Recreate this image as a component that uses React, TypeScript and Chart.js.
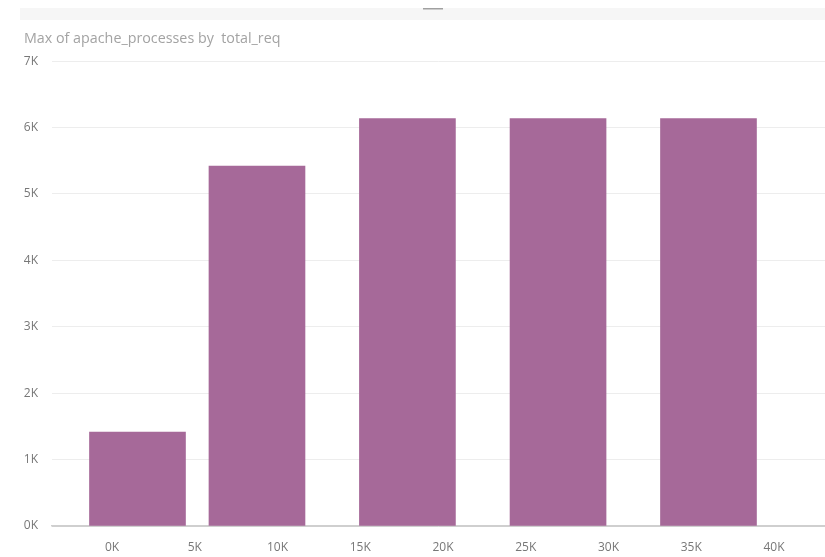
import React, { useEffect, useRef } from "react";
import { Chart, registerables } from "chart.js";

Chart.register(...registerables);

const binCenters = [1540, 8760, 17850, 26950, 36040];
const maxProcesses = [1415, 5420, 6137, 6137, 6137];
const xTickValues = [0, 5000, 10000, 15000, 20000, 25000, 30000, 35000, 40000];
const titleText = "Max of apache_processes by  total_req";

const FONT = "'Open Sans', 'Noto Sans', sans-serif";

const frame = {
  id: "frame",
  beforeDraw(chart: any) {
    const c = chart.ctx;
    c.save();
    c.fillStyle = "#ffffff";
    c.fillRect(0, 0, chart.width, chart.height);
    c.fillStyle = "#f6f6f6";
    c.fillRect(20, 8, chart.width - 20, 12);
    c.fillStyle = "#a0a0a0";
    c.fillRect(423, 8, 20, 1.5);
    c.restore();
  },
};

export default function App() {
  const ref = useRef<HTMLCanvasElement>(null);
  useEffect(() => {
    document.body.style.margin = "0";
    const chart = new Chart(ref.current!, {
      type: "bar",
      data: {
        datasets: [
          {
            label: "Max of apache_processes",
            data: binCenters.map((x, i) => ({ x, y: maxProcesses[i] })),
            backgroundColor: "#A66999",
            barThickness: 96,
          },
        ],
      },
      plugins: [frame],
      options: {
        animation: false,
        responsive: false,
        layout: { padding: { left: 24, top: 30, right: 0, bottom: 2 } },
        plugins: {
          legend: { display: false },
          tooltip: { enabled: false },
          title: {
            display: true,
            text: titleText,
            align: "start",
            color: "#a3a3a3",
            font: { family: FONT, size: 14.3, weight: "normal" },
            padding: { top: 0, bottom: 14 },
          },
        },
        scales: {
          x: {
            type: "linear",
            offset: false,
            min: -3625,
            max: 43080,
            afterBuildTicks: (scale: any) => {
              scale.ticks = xTickValues.map((v) => ({ value: v }));
            },
            afterFit: (scale: any) => {
              scale.height = 29;
            },
            ticks: {
              callback: (v: any) => Number(v) / 1000 + "K",
              color: "#777777",
              font: { family: FONT, size: 12 },
              padding: 14,
              maxRotation: 0,
              autoSkip: false,
            },
            grid: { display: false, drawTicks: false },
            border: { display: true, color: "#cfcfcf", width: 1.5 },
          },
          y: {
            min: 0,
            max: 7000,
            afterFit: (scale: any) => {
              scale.width = 28;
            },
            ticks: {
              stepSize: 1000,
              callback: (v: any) => Number(v) / 1000 + "K",
              color: "#777777",
              font: { family: FONT, size: 12 },
              padding: 14,
            },
            grid: {
              drawTicks: false,
              color: (ctx: any) => (ctx.tick && ctx.tick.value === 0 ? "#cfcfcf" : "#ededed"),
            },
            border: { display: false },
          },
        },
      },
    } as any);
    return () => chart.destroy();
  }, []);
  return (
    <div style={{ position: "absolute", left: 0, top: 0, width: 825, height: 557 }}>
      <canvas ref={ref} width={825} height={557} style={{ display: "block" }} />
    </div>
  );
}
